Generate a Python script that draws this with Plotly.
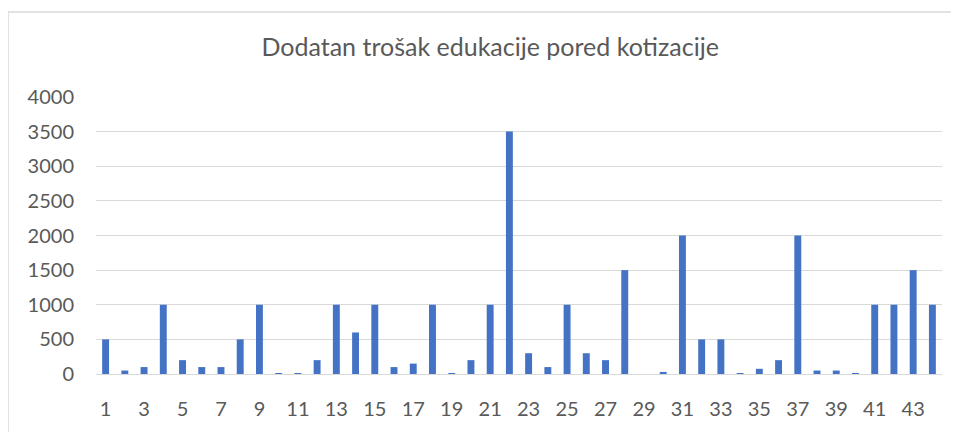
import plotly.graph_objects as go

categories = list(range(1, 45))
values = [500, 50, 100, 1000, 200, 100, 100, 500, 1000, 10,
          5, 200, 1000, 600, 1000, 100, 150, 1000, 10, 200,
          1000, 3500, 300, 100, 1000, 300, 200, 1500, 0, 30,
          2000, 500, 500, 5, 75, 200, 2000, 50, 50, 5,
          1000, 1000, 1500, 1000]
tick_vals = list(range(1, 45, 2))
tick_text = [str(v) for v in tick_vals]

font_family = "Lato"
text_color = "#595959"

W, H = 951, 424
L, R, T, B = 88, 17, 89, 55
PW, PH = W - L - R, H - T - B

fig = go.Figure(go.Bar(x=categories, y=values, marker_color="#4472C4",
                       marker_line_width=0))

fig.update_layout(
    width=W, height=H,
    margin=dict(l=L, r=R, t=T, b=B),
    paper_bgcolor="white", plot_bgcolor="white",
    bargap=0.64,
    showlegend=False,
    font=dict(family=font_family, color=text_color, size=20),
    title=dict(text="Dodatan trošak edukacije pored kotizacije",
               x=0.507, xanchor="center", y=0.908, yanchor="middle",
               font=dict(family=font_family, size=25, color=text_color)),
    xaxis=dict(range=[0.5, 44.5], tickmode="array", tickvals=tick_vals,
               ticktext=tick_text, showgrid=False, showline=True,
               linecolor="#d9d9d9", linewidth=1, ticks="",
               ticklabelstandoff=17, tickfont=dict(size=20)),
    yaxis=dict(range=[0, 4000], dtick=500, showgrid=True, gridcolor="#d9d9d9",
               gridwidth=1, zeroline=False, showline=False, ticks="",
               ticklabelstandoff=21, tickfont=dict(size=20)),
    shapes=[dict(type="rect", xref="paper", yref="paper",
                 x0=(0 - L) / PW, x1=(949 - L) / PW,
                 y0=(T + PH - 430) / PH, y1=(T + PH - 3) / PH,
                 line=dict(color="#d9d9d9", width=1.5), layer="below")],
)

fig.write_html("out.html")
